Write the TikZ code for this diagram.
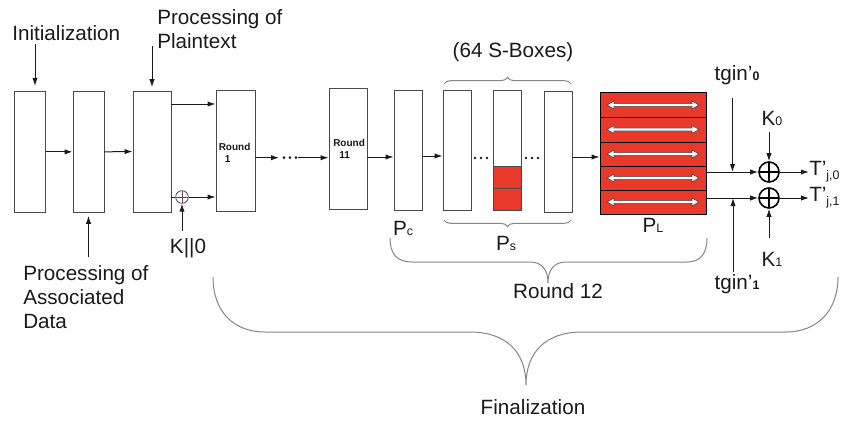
\documentclass[tikz,border=0pt]{standalone}
\usepackage{fontspec}
\setmainfont{Liberation Sans}
\usetikzlibrary{arrows.meta,fit,decorations.pathreplacing}

\definecolor{boxline}{HTML}{4A4A4A}
\definecolor{sred}{HTML}{E8392A}
\definecolor{bracegray}{HTML}{858585}
\definecolor{ink}{HTML}{1A1A1A}
\definecolor{xorplus}{HTML}{7A3A5A}

% small index letters and digits written on the baseline
\newcommand{\idx}[1]{{\fontsize{9.3pt}{10pt}\selectfont #1}}
\newcommand{\lowidx}[1]{\raisebox{-3pt}{\fontsize{9.3pt}{10pt}\selectfont #1}}

\begin{document}
\begin{tikzpicture}[x=0.75pt,y=-0.75pt,
  font=\fontsize{15.5pt}{18pt}\selectfont,
  txt/.style={inner sep=0pt,text=ink},
  box/.style={draw=boxline,line width=0.7pt,inner sep=0pt,fill=white},
  arr/.style={draw=ink,line width=0.75pt,-{Latex[length=6pt,width=4pt]}},
  wire/.style={draw=ink,line width=0.75pt},
  rndlbl/.style={font=\fontsize{7.5pt}{9pt}\selectfont\bfseries,align=left,inner sep=0pt,text=ink},
  bigxor/.style={circle,draw=black,line width=1.2pt,minimum size=15pt,inner sep=0pt,
    path picture={\draw[line width=1.2pt] (path picture bounding box.north) -- (path picture bounding box.south)
      (path picture bounding box.west) -- (path picture bounding box.east);}},
  smallxor/.style={circle,draw=boxline,line width=0.6pt,minimum size=9.5pt,inner sep=0pt,
    path picture={\draw[xorplus,line width=0.6pt] (path picture bounding box.north) -- (path picture bounding box.south)
      (path picture bounding box.west) -- (path picture bounding box.east);}},
  bracepath/.style={draw=bracegray,line width=0.75pt},
  sbrace/.style={bracepath,decorate,decoration={brace,amplitude=5pt}},
  dot/.style={fill=ink}
]
\useasboundingbox (0,0) rectangle (841,421);

% ---------- first stages ----------
\node[box,fit={(14.7,91.7)(45.3,212)}] (b1) {};
\node[box,fit={(73,91.7)(104,212)}] (b2) {};
\node[box,fit={(133,91)(171,212)}] (b3) {};
\node[box,fit={(216,90.7)(255,211)}] (r1) {};
\node[box,fit={(329,88)(367,209)}] (r11) {};

\node[rndlbl,anchor=west] (r1lbl) at (218.5,153) {Round\\\hspace*{4.5pt}1};
\node[rndlbl,anchor=west] (r11lbl) at (333,148.5) {Round\\\hspace*{4.5pt}11};

% input labels
\node[txt,anchor=west] (initlbl) at (12,33) {Initialization};
\coordinate (initsrc) at (35,44);
\draw[arr,shorten >=4pt] (initsrc) -- (initsrc |- b1.north);

\node[txt,anchor=west,align=left] (ptlbl) at (157,29) {Processing of\\Plaintext};
\coordinate (ptsrc) at (152,46);
\draw[arr,shorten >=2.5pt] (ptsrc) -- (ptsrc |- b3.north);

\node[txt,anchor=west,align=left] (adlbl) at (23,297) {Processing of\\Associated\\Data};
\coordinate (adsrc) at (88.5,257);
\draw[arr,shorten >=2.5pt] (adsrc) -- (adsrc |- b2.south);

% chain of the first stages
\draw[arr] (b1.east) -- (b2.west);
\draw[arr] (b2.east) -- (b3.west);
\coordinate (uprow) at (0,104);
\draw[arr] (b3.east |- uprow) -- (r1.west |- uprow);

\node[smallxor] (xk) at (182,197) {};
\draw[wire] (b3.east |- xk) -- (xk.west);
\draw[arr] (xk.east) -- (r1.west |- xk);
\node[txt] (klbl) at (188,248) {K||0};
\coordinate (ksrc) at (182,231);
\draw[arr] (ksrc) -- (xk.south);

% rounds 1 ... 11
\coordinate (dotsA) at (279,157.7);
\coordinate (dotsB) at (298,157.7);
\draw[arr] (r1.east |- dotsA) -- (dotsA);
\fill[dot] (284,157.7) circle (1.1pt) (290,157.7) circle (1.1pt) (296,157.7) circle (1.1pt);
\draw[arr] (dotsB) -- (r11.west |- dotsB);

% ---------- round 12 ----------
\node[box,fit={(394,90)(422,210)}] (pc) {};
\node[box,fit={(443,90.3)(471,210.7)}] (s1) {};
\node[box,fit={(493,90.3)(521,210.7)}] (s2) {};
\node[box,fit={(544,91)(572,212)}] (s3) {};
\node[box,fill=sred,draw=black,fit={(600,92.7)(706,214)}] (pl) {};

% active S-box cells
\draw[boxline,line width=0.7pt,fill=sred] (493,166) rectangle (521,210.7);
\draw[boxline,line width=0.7pt] (493,188) -- (521,188);

\draw[arr] (r11.east |- 0,157) -- (pc.west |- 0,157);
\draw[arr] (pc.east |- 0,156) -- (s1.west |- 0,156);
\fill[dot] (475,158) circle (1.1pt) (481,158) circle (1.1pt) (487,158) circle (1.1pt);
\fill[dot] (526,158) circle (1.1pt) (532,158) circle (1.1pt) (538,158) circle (1.1pt);
\draw[arr] (s3.east |- 0,157) -- (pl.west |- 0,157);

% linear layer rows with two-way arrows
\foreach \yy in {117,142,166,190}
  \draw[black,line width=0.7pt] (pl.west |- 0,\yy) -- (pl.east |- 0,\yy);
\foreach \c in {105,129.5,154,178,202}
  \draw[draw=boxline,line width=0.5pt,fill=white]
    (607,\c) -- (614,\c-4) -- (614,\c-1.4) -- (692,\c-1.4) -- (692,\c-4) -- (699,\c)
    -- (692,\c+4) -- (692,\c+1.4) -- (614,\c+1.4) -- (614,\c+4) -- cycle;

% labels of round 12
\node[txt] (pclbl) at (403,228) {P\idx{c}};
\node[txt] (pslbl) at (506,243) {P\idx{s}};
\node[txt] (pllbl) at (653,225) {P\idx{L}};
\node[txt] (sbox) at (513,52) {(64 S-Boxes)};
\draw[sbrace] (444,84) -- (571,84);
\draw[sbrace] (571,220) -- (444,220);

% ---------- tag output ----------
\node[bigxor] (x0) at (769,172) {};
\node[bigxor] (x1) at (769,198) {};
\draw[arr] (pl.east |- x0) -- (x0.west);
\draw[arr] (pl.east |- x1) -- (x1.west);

\node[txt] (tg0) at (737,75) {tgin’\idx{\bfseries 0}};
\coordinate (tg0src) at (732.5,98);
\draw[arr] (tg0src) -- (tg0src |- x0);
\node[txt] (tg1) at (737,284) {tgin’\idx{\bfseries 1}};
\coordinate (tg1src) at (733,272);
\draw[arr] (tg1src) -- (tg1src |- x1);

\node[txt] (k0) at (772,118) {K\idx{0}};
\coordinate (k0src) at (769,132);
\draw[arr] (k0src) -- (x0.north);
\node[txt] (k1) at (772,259) {K\idx{1}};
\coordinate (k1src) at (769,238);
\draw[arr] (k1src) -- (x1.south);

\node[txt,anchor=west] (t0) at (809,172) {T’\lowidx{j,0}};
\node[txt,anchor=west] (t1) at (809,198) {T’\lowidx{j,1}};
\draw[arr] (x0.east) -- (t0.west);
\draw[arr] (x1.east) -- (t1.west);

% ---------- grouping braces ----------
\draw[bracepath] (390,238) .. controls (390,254) and (397,262) .. (412,262) -- (530,262)
  .. controls (542,262) and (548,270) .. (548,283)
  .. controls (548,270) and (554,262) .. (566,262) -- (687,262)
  .. controls (700,262) and (707,254) .. (707,238);
\node[txt] (r12lbl) at (558,291) {Round 12};

\draw[bracepath] (213,277) .. controls (213,312) and (234,332) .. (265,332) -- (470,332)
  .. controls (506,332) and (526,352) .. (526,385)
  .. controls (526,352) and (546,332) .. (582,332) -- (786,332)
  .. controls (816,332) and (838,312) .. (838,277);
\node[txt] (finlbl) at (533,407) {Finalization};
\end{tikzpicture}
\end{document}
